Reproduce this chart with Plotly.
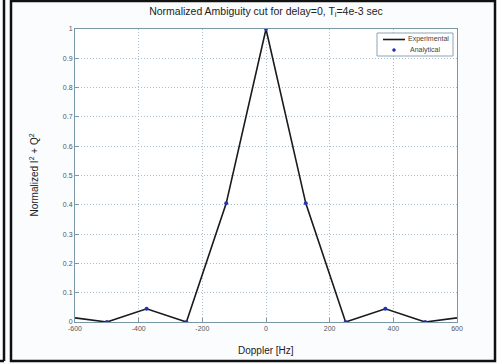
import plotly.graph_objects as go

# Data
doppler_exp = [-600, -500, -375, -250, -125, 0, 125, 250, 375, 500, 600]
power_exp = [0.014, 0.0, 0.045, 0.0, 0.405, 1.0, 0.405, 0.0, 0.045, 0.0, 0.014]
doppler_an = [-500, -375, -250, -125, 0, 125, 250, 375, 500]
power_an = [0.0, 0.045, 0.0, 0.405, 1.0, 0.405, 0.0, 0.045, 0.0]
x_ticks = [-600, -400, -200, 0, 200, 400, 600]
y_ticks = [0, 0.1, 0.2, 0.3, 0.4, 0.5, 0.6, 0.7, 0.8, 0.9, 1]
legend_names = ["Experimental", "Analytical"]

W, H = 497, 364
L, R, T, B = 75, 457, 29, 322

EXP_COLOR = "#1a1a1a"
AN_COLOR = "#2233bb"

fig = go.Figure()
fig.add_trace(go.Scatter(x=doppler_exp, y=power_exp, mode="lines", name=legend_names[0],
                         line=dict(color=EXP_COLOR, width=1.6), showlegend=False))
fig.add_trace(go.Scatter(x=doppler_an, y=power_an, mode="markers", name=legend_names[1],
                         marker=dict(color=AN_COLOR, size=4, symbol="circle"), showlegend=False))

def px(xp):
    return (xp - L) / (R - L)

def py(yp):
    return (B - yp) / (B - T)

shapes = [
    # outer frame
    dict(type="rect", xref="paper", yref="paper", x0=px(11), x1=px(495), y0=py(361), y1=py(1),
         line=dict(color="#111111", width=2.5), layer="below"),
    # left neighbouring panel edge
    dict(type="line", xref="paper", yref="paper", x0=px(4), x1=px(4), y0=py(361), y1=py(0),
         line=dict(color="#111111", width=2.5)),
    dict(type="line", xref="paper", yref="paper", x0=px(0), x1=px(4), y0=py(361), y1=py(361),
         line=dict(color="#111111", width=2.5)),
    # manual legend box
    dict(type="rect", xref="paper", yref="paper", x0=px(377), x1=px(453), y0=py(56), y1=py(33),
         line=dict(color="#8fa3b3", width=1), fillcolor="#ffffff"),
    dict(type="line", xref="paper", yref="paper", x0=px(383), x1=px(405), y0=py(39.5), y1=py(39.5),
         line=dict(color=EXP_COLOR, width=1.6)),
    dict(type="circle", xref="paper", yref="paper", x0=px(392.5), x1=px(395.5), y0=py(51.5), y1=py(48.5),
         line=dict(color=AN_COLOR, width=0.5), fillcolor=AN_COLOR),
]

annotations = [
    dict(text=legend_names[0], xref="paper", yref="paper", x=px(406), y=py(39.5),
         xanchor="left", yanchor="middle", showarrow=False, font=dict(size=7, color="#444444")),
    dict(text=legend_names[1], xref="paper", yref="paper", x=px(408), y=py(50),
         xanchor="left", yanchor="middle", showarrow=False, font=dict(size=7, color="#444444")),
    dict(text="Doppler [Hz]", xref="paper", yref="paper", x=0.5, y=py(350),
         xanchor="center", yanchor="middle", showarrow=False, font=dict(size=10, color="#222222")),
    dict(text="Normalized I<sup>2</sup> + Q<sup>2</sup>", xref="paper", yref="paper", x=px(33), y=0.5,
         xanchor="center", yanchor="middle", showarrow=False, textangle=-90,
         font=dict(size=10, color="#222222")),
]

fig.update_layout(
    width=W, height=H,
    margin=dict(l=L, r=W - R, t=T, b=H - B),
    paper_bgcolor="#fbfcfe",
    plot_bgcolor="#ffffff",
    font=dict(family="Liberation Sans, Arial, sans-serif", color="#333333", size=7),
    title=dict(text="Normalized Ambiguity cut for delay=0, T<sub>i</sub>=4e-3 sec",
               x=0.5, xref="paper", xanchor="center", y=1 - 11 / H, yref="container",
               yanchor="middle", automargin=False,
               font=dict(size=10.5, color="#222222")),
    showlegend=False,
    shapes=shapes,
    annotations=annotations,
)
fig.update_xaxes(range=[-600, 600], tickvals=x_ticks, ticktext=[str(v) for v in x_ticks],
                 showgrid=True, gridcolor="#a9bfd0", griddash="1px,2px", gridwidth=1,
                 zeroline=False, showline=True, linecolor="#7a97a8", linewidth=1, mirror=True,
                 ticks="inside", ticklen=4, tickcolor="#7a97a8", automargin=False,
                 tickfont=dict(size=7, color="#555555"))
fig.update_yaxes(range=[0, 1], tickvals=y_ticks, ticktext=[("%g" % v) for v in y_ticks],
                 showgrid=True, gridcolor="#a9bfd0", griddash="1px,2px", gridwidth=1,
                 zeroline=False, showline=True, linecolor="#7a97a8", linewidth=1, mirror=True,
                 ticks="inside", ticklen=4, tickcolor="#7a97a8", automargin=False,
                 tickfont=dict(size=7, color="#555555"))

fig.write_html("out.html", config={"displayModeBar": False},
               post_script="document.body.style.margin='0';document.body.style.overflow='hidden';")
